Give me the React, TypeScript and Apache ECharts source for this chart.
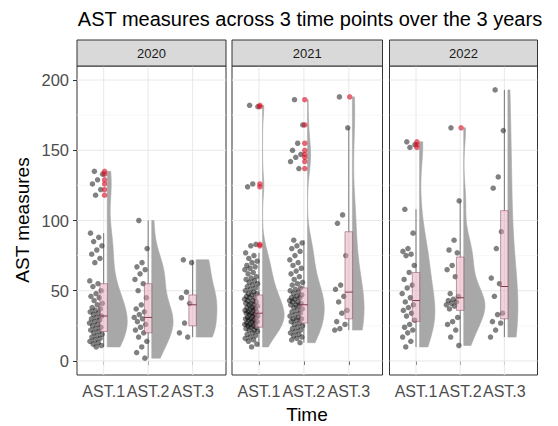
import React, { useEffect, useRef } from "react";
import * as echarts from "echarts";

const years = ["2020", "2021", "2022"];
const timeLabels = ["AST.1", "AST.2", "AST.3"];
const catPos = [1, 2, 3];
const yTicks = [0, 50, 100, 150, 200];
const yMinor = [25, 75, 125, 175];

const ast1_2020 = [135, 133, 129, 126, 122, 118, 91, 88, 85, 82, 79, 76, 73, 70, 57, 55, 53, 50, 48, 46, 45, 43, 41, 40, 38, 37, 36, 35, 34, 33, 32, 31, 30, 29, 28, 27, 26, 25, 24, 23, 22, 21, 20, 19, 18, 17, 16, 15, 14, 13, 12, 11, 10];
const ast2_2020 = [100, 80, 70, 67, 65, 62, 58, 55, 50, 45, 40, 37, 35, 33, 31, 30, 28, 26, 24, 22, 20, 17, 14, 10, 6, 2];
const ast3_2020 = [72, 70, 49, 45, 41, 27, 20, 17];

const ast1_2021 = [182, 181, 126, 124, 83, 82, 77, 75, 73, 71, 70, 68, 67, 66, 65, 63, 62, 60, 59, 58, 57, 56, 55, 54, 53, 52, 51, 50, 49, 48, 48, 47, 46, 45, 45, 44, 43, 43, 42, 41, 41, 40, 40, 39, 38, 38, 37, 37, 36, 36, 35, 35, 34, 34, 33, 33, 32, 32, 31, 31, 30, 30, 29, 29, 28, 28, 27, 27, 26, 26, 25, 25, 24, 24, 23, 22, 22, 21, 20, 19, 18, 17, 16, 15, 14, 12, 10];
const ast2_2021 = [186, 168, 155, 150, 147, 145, 142, 137, 86, 84, 82, 80, 78, 75, 72, 70, 68, 66, 64, 62, 60, 58, 56, 55, 54, 52, 51, 50, 49, 48, 47, 46, 45, 45, 44, 43, 42, 42, 41, 40, 40, 39, 38, 37, 36, 35, 34, 33, 32, 31, 30, 30, 29, 28, 27, 26, 25, 24, 23, 22, 21, 20, 19, 18, 17, 16, 15, 13];
const ast3_2021 = [188, 166, 104, 98, 75, 54, 51, 46, 42, 36, 34, 28, 26, 23, 22];

const ast1_2022 = [156, 154, 152, 108, 91, 80, 78, 76, 75, 68, 63, 58, 54, 52, 48, 45, 42, 40, 38, 36, 34, 32, 29, 26, 24, 22, 20, 17, 14, 10];
const ast2_2022 = [166, 114, 86, 79, 77, 68, 65, 60, 48, 46, 44, 43, 42, 41, 40, 39, 37, 31, 28, 26, 22, 17, 11];
const ast3_2022 = [193, 164, 131, 123, 92, 80, 59, 55, 46, 34, 33, 28, 27, 22, 17];

// box stats: [lower whisker, Q1, median, Q3, upper whisker]
const box2020 = [[10, 21, 32, 55, 91], [2, 20, 31, 55, 100], [17, 25, 40, 47, 72]];
const box2021 = [[10, 24, 34, 47, 77], [13, 27, 40, 52, 86], [22, 30, 49, 92, 166]];
const box2022 = [[10, 28, 43, 63, 108], [11, 36, 45, 74, 114], [17, 30, 53, 107, 193]];

const panelData = [
  [ast1_2020, ast2_2020, ast3_2020],
  [ast1_2021, ast2_2021, ast3_2021],
  [ast1_2022, ast2_2022, ast3_2022],
];
const panelBoxes = [box2020, box2021, box2022];

const FONT = "'Liberation Sans', Arial, Helvetica, sans-serif";
const GRID_LEFT = [77, 232, 389.5];
const GRID_W = [149, 150.5, 148];
const GRID_TOP = 66;
const GRID_H = 309;
const X_MIN = 0.4;
const X_MAX = 3.75;
const Y_MIN = -10;
const Y_MAX = 210;
const VIOLIN_OFFSET = 0.08;
const VIOLIN_MAXW = 0.48;
const BOX_HALF = 0.085;

function quantile(sorted: number[], p: number) {
  const h = (sorted.length - 1) * p;
  const lo = Math.floor(h);
  const hi = Math.min(lo + 1, sorted.length - 1);
  return sorted[lo] + (h - lo) * (sorted[hi] - sorted[lo]);
}
function bwNrd0(x: number[]) {
  const n = x.length;
  const mean = x.reduce((a, b) => a + b, 0) / n;
  const sd = Math.sqrt(x.reduce((a, b) => a + (b - mean) * (b - mean), 0) / (n - 1));
  const s = [...x].sort((a, b) => a - b);
  const iqr = quantile(s, 0.75) - quantile(s, 0.25);
  let lo = Math.min(sd, iqr / 1.34);
  if (!lo) lo = sd || 1;
  return 0.9 * lo * Math.pow(n, -0.2);
}
function kde(x: number[]) {
  const bw = bwNrd0(x);
  const mn = Math.min(...x);
  const mx = Math.max(...x);
  const N = 200;
  const ys: number[] = [];
  const ds: number[] = [];
  for (let k = 0; k <= N; k++) {
    const g = mn + ((mx - mn) * k) / N;
    let s = 0;
    for (const xi of x) {
      const z = (g - xi) / bw;
      s += Math.exp(-0.5 * z * z);
    }
    ys.push(g);
    ds.push(s / (x.length * bw * Math.sqrt(2 * Math.PI)));
  }
  return { ys, ds };
}
const violinProfiles = panelData.map((groups) => {
  const dens = groups.map(kde);
  const mx = Math.max(...dens.map((d) => Math.max(...d.ds)));
  return dens.map((d) => ({ ys: d.ys, ws: d.ds.map((v) => (v / mx) * VIOLIN_MAXW) }));
});

function jitter(i: number) {
  const u = (i * 0.6180339887 + 0.37) % 1;
  return -0.17 + (u - 0.5) * 0.3;
}

export default function App() {
  const ref = useRef<HTMLDivElement>(null);
  useEffect(() => {
    document.body.style.margin = "0";
    const chart = echarts.init(ref.current!, null, { renderer: "svg" });
    const grids: any[] = [];
    const xAxes: any[] = [];
    const yAxes: any[] = [];
    const series: any[] = [];
    const graphics: any[] = [];

    for (let p = 0; p < 3; p++) {
      grids.push({
        left: GRID_LEFT[p],
        top: GRID_TOP,
        width: GRID_W[p],
        height: GRID_H,
        show: true,
        borderColor: "#333333",
        borderWidth: 1,
        backgroundColor: "#ffffff",
        containLabel: false,
      });
      xAxes.push({
        type: "value",
        gridIndex: p,
        min: X_MIN,
        max: X_MAX,
        axisLine: { show: false },
        splitLine: { show: false },
        axisTick: { show: true, customValues: catPos, length: 4, lineStyle: { color: "#333333", width: 1 } },
        axisLabel: {
          show: true,
          customValues: catPos,
          formatter: (v: number) => timeLabels[Math.round(v) - 1] || "",
          color: "#4d4d4d",
          fontSize: 16,
          fontFamily: FONT,
          margin: 8,
        },
      });
      yAxes.push({
        type: "value",
        gridIndex: p,
        min: Y_MIN,
        max: Y_MAX,
        axisLine: { show: false },
        splitLine: { show: false },
        axisTick: { show: p === 0, customValues: yTicks, length: 4, lineStyle: { color: "#333333", width: 1 } },
        axisLabel: {
          show: p === 0,
          customValues: yTicks,
          color: "#4d4d4d",
          fontSize: 16.5,
          fontFamily: FONT,
          margin: 8,
        },
      });

      // gridlines
      series.push({
        type: "custom",
        xAxisIndex: p,
        yAxisIndex: p,
        silent: true,
        z: 1,
        data: [[1, 0]],
        renderItem: (params: any, api: any) => {
          const cs = params.coordSys;
          const children: any[] = [];
          yMinor.forEach((v) => {
            const y = api.coord([1, v])[1];
            children.push({ type: "line", shape: { x1: cs.x, y1: y, x2: cs.x + cs.width, y2: y }, style: { stroke: "#f3f3f3", lineWidth: 0.7 } });
          });
          yTicks.forEach((v) => {
            const y = api.coord([1, v])[1];
            children.push({ type: "line", shape: { x1: cs.x, y1: y, x2: cs.x + cs.width, y2: y }, style: { stroke: "#e8e8e8", lineWidth: 1 } });
          });
          catPos.forEach((c) => {
            const x = api.coord([c, 0])[0];
            children.push({ type: "line", shape: { x1: x, y1: cs.y, x2: x, y2: cs.y + cs.height }, style: { stroke: "#e8e8e8", lineWidth: 1 } });
          });
          return { type: "group", children };
        },
      });

      // violins
      series.push({
        type: "custom",
        xAxisIndex: p,
        yAxisIndex: p,
        silent: true,
        z: 2,
        data: [[0, 0], [1, 0], [2, 0]],
        renderItem: (params: any, api: any) => {
          const gi = api.value(0);
          const prof = violinProfiles[p][gi];
          const base = catPos[gi] + VIOLIN_OFFSET;
          const pts: number[][] = [];
          for (let k = 0; k < prof.ys.length; k++) pts.push(api.coord([base + prof.ws[k], prof.ys[k]]));
          for (let k = prof.ys.length - 1; k >= 0; k--) pts.push(api.coord([base, prof.ys[k]]));
          return { type: "polygon", shape: { points: pts }, style: { fill: "#a8a8a8", stroke: "#a8a8a8", lineWidth: 0.6 } };
        },
      });

      // jittered points
      const pts: number[][] = [];
      panelData[p].forEach((arr, gi) => {
        arr.forEach((v, i) => pts.push([catPos[gi] + jitter(i), v]));
      });
      series.push({
        type: "scatter",
        xAxisIndex: p,
        yAxisIndex: p,
        z: 3,
        symbol: "circle",
        symbolSize: 5.5,
        itemStyle: { color: "rgba(0,0,0,0.62)" },
        data: pts,
        silent: true,
      });

      // boxplots
      series.push({
        type: "custom",
        xAxisIndex: p,
        yAxisIndex: p,
        silent: true,
        z: 4,
        data: panelBoxes[p].map((b, gi) => [gi, ...b]),
        renderItem: (params: any, api: any) => {
          const gi = api.value(0);
          const c = catPos[gi];
          const lo = api.value(1), q1 = api.value(2), md = api.value(3), q3 = api.value(4), hi = api.value(5);
          const pLo = api.coord([c, lo]);
          const pHi = api.coord([c, hi]);
          const tl = api.coord([c - BOX_HALF, q3]);
          const br = api.coord([c + BOX_HALF, q1]);
          const m1 = api.coord([c - BOX_HALF, md]);
          const m2 = api.coord([c + BOX_HALF, md]);
          return {
            type: "group",
            children: [
              { type: "line", shape: { x1: pHi[0], y1: pHi[1], x2: pHi[0], y2: tl[1] }, style: { stroke: "#444444", lineWidth: 0.7 } },
              { type: "line", shape: { x1: pLo[0], y1: pLo[1], x2: pLo[0], y2: br[1] }, style: { stroke: "#444444", lineWidth: 0.7 } },
              { type: "rect", shape: { x: tl[0], y: tl[1], width: br[0] - tl[0], height: br[1] - tl[1] }, style: { fill: "rgba(225,170,186,0.5)", stroke: "rgba(150,75,100,0.8)", lineWidth: 0.7 } },
              { type: "line", shape: { x1: m1[0], y1: m1[1], x2: m2[0], y2: m2[1] }, style: { stroke: "rgba(120,50,70,0.95)", lineWidth: 1 } },
            ],
          };
        },
      });

      // outliers
      const outs: number[][] = [];
      panelData[p].forEach((arr, gi) => {
        const b = panelBoxes[p][gi];
        arr.forEach((v) => {
          if (v > b[4] || v < b[0]) outs.push([catPos[gi] + 0.02, v]);
        });
      });
      series.push({
        type: "scatter",
        xAxisIndex: p,
        yAxisIndex: p,
        z: 5,
        symbol: "circle",
        symbolSize: 5.5,
        itemStyle: { color: "rgba(215,20,40,0.8)" },
        data: outs,
        silent: true,
      });

      // strip
      graphics.push({
        type: "rect",
        shape: { x: GRID_LEFT[p], y: 40, width: GRID_W[p], height: 26 },
        style: { fill: "#d9d9d9", stroke: "#333333", lineWidth: 1 },
        z: 10,
      });
      graphics.push({
        type: "text",
        x: GRID_LEFT[p] + GRID_W[p] / 2,
        y: 53,
        style: { text: years[p], fill: "#1a1a1a", font: `13px ${FONT}`, textAlign: "center", textVerticalAlign: "middle" },
        z: 11,
      });
    }

    graphics.push({
      type: "text",
      x: 310,
      y: 19,
      style: { text: "AST measures across 3 time points over the 3 years", fill: "#000000", font: `20px ${FONT}`, textAlign: "center", textVerticalAlign: "middle" },
    });
    graphics.push({
      type: "text",
      x: 307,
      y: 414,
      style: { text: "Time", fill: "#000000", font: `19px ${FONT}`, textAlign: "center", textVerticalAlign: "middle" },
    });
    graphics.push({
      type: "text",
      x: 22,
      y: 220,
      rotation: Math.PI / 2,
      style: { text: "AST measures", fill: "#000000", font: `19px ${FONT}`, textAlign: "center", textVerticalAlign: "middle" },
    });

    chart.setOption({
      animation: false,
      backgroundColor: "#ffffff",
      grid: grids,
      xAxis: xAxes,
      yAxis: yAxes,
      series,
      graphic: { elements: graphics },
    });
    return () => chart.dispose();
  }, []);
  return <div ref={ref} style={{ position: "fixed", left: 0, top: 0, width: 558, height: 426 }} />;
}
